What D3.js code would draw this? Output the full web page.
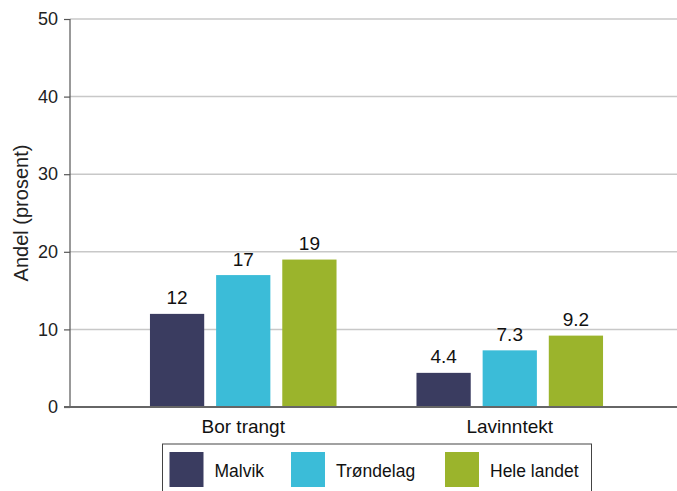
<!DOCTYPE html>
<html><head><meta charset="utf-8">
<script src="https://cdn.jsdelivr.net/npm/d3@7"></script>
<style>body{margin:0;background:#fff}svg{display:block;font-family:"Liberation Sans",Arial,sans-serif}</style>
</head><body><svg id="c" width="677" height="491"></svg>
<script>
const categories = ["Bor trangt", "Lavinntekt"];
const seriesNames = ["Malvik", "Trøndelag", "Hele landet"];
const malvik = [12, 4.4];
const trondelag = [17, 7.3];
const heleLandet = [19, 9.2];
const valueLabels = [["12", "4.4"], ["17", "7.3"], ["19", "9.2"]];
const yTicks = [0, 10, 20, 30, 40, 50];
const colors = ["#3a3c60", "#3bbcd8", "#9bb42c"];
const series = [malvik, trondelag, heleLandet];

const svg = d3.select("#c");
const pLeft = 70, pRight = 683, pTop = 19, pBottom = 407;
const y = d3.scaleLinear().domain([0, 50]).range([pBottom, pTop]);
const x0 = d3.scaleBand().domain(categories).range([pLeft, pRight]).padding(0.3);
const x1 = d3.scaleBand().domain(seriesNames).range([0, x0.bandwidth()]).paddingInner(0.18).paddingOuter(0);

// gridlines
svg.append("g").selectAll("line").data(yTicks.filter(d => d > 0)).join("line")
  .attr("x1", pLeft).attr("x2", 677)
  .attr("y1", d => y(d)).attr("y2", d => y(d))
  .attr("stroke", "#c8c8c8").attr("stroke-width", 1.5);

// y axis
const ya = svg.append("g").attr("transform", `translate(${pLeft},0)`)
  .call(d3.axisLeft(y).tickValues(yTicks).tickSize(6).tickPadding(6));
ya.select(".domain").attr("stroke", "#555").attr("stroke-width", 1.2).attr("d", `M0,${pTop}V${pBottom}`);
ya.selectAll(".tick line").attr("stroke", "#555").attr("stroke-width", 1.2);
ya.selectAll(".tick text").attr("font-size", 18).attr("fill", "#222").attr("font-family", "Liberation Sans, Arial, sans-serif");

svg.append("text").attr("transform", `translate(28,${(pTop+pBottom)/2}) rotate(-90)`)
  .attr("text-anchor", "middle").attr("font-size", 20).attr("fill", "#222").text("Andel (prosent)");

// bars
const g = svg.append("g");
series.forEach((vals, si) => {
  g.selectAll(".b" + si).data(categories).join("rect")
    .attr("x", (c) => x0(c) + x1(seriesNames[si]))
    .attr("width", x1.bandwidth())
    .attr("y", (c, i) => y(vals[i]))
    .attr("height", (c, i) => y(0) - y(vals[i]))
    .attr("fill", colors[si]);
  g.selectAll(".t" + si).data(categories).join("text")
    .attr("x", (c) => x0(c) + x1(seriesNames[si]) + x1.bandwidth() / 2)
    .attr("y", (c, i) => y(vals[i]) - 9.5)
    .attr("text-anchor", "middle").attr("font-size", 19).attr("fill", "#111")
    .text((c, i) => valueLabels[si][i]);
});

// baseline
svg.append("line").attr("x1", 64).attr("x2", 677).attr("y1", y(0)).attr("y2", y(0))
  .attr("stroke", "#666").attr("stroke-width", 2);

// category labels
svg.append("g").selectAll("text").data(categories).join("text")
  .attr("x", c => x0(c) + x0.bandwidth() / 2).attr("y", 432.5)
  .attr("text-anchor", "middle").attr("font-size", 19).attr("fill", "#111").text(c => c);

// legend
const lg = svg.append("g");
lg.append("rect").attr("x", 162.5).attr("y", 444).attr("width", 429).attr("height", 60)
  .attr("fill", "#fff").attr("stroke", "#444").attr("stroke-width", 1);
const legX = [169.5, 291, 445];
seriesNames.forEach((s, i) => {
  lg.append("rect").attr("x", legX[i]).attr("y", 452).attr("width", 34).attr("height", 35).attr("fill", colors[i]);
  lg.append("text").attr("x", legX[i] + 45).attr("y", 477).attr("font-size", 17.5).attr("fill", "#111").text(s);
});
</script></body></html>
